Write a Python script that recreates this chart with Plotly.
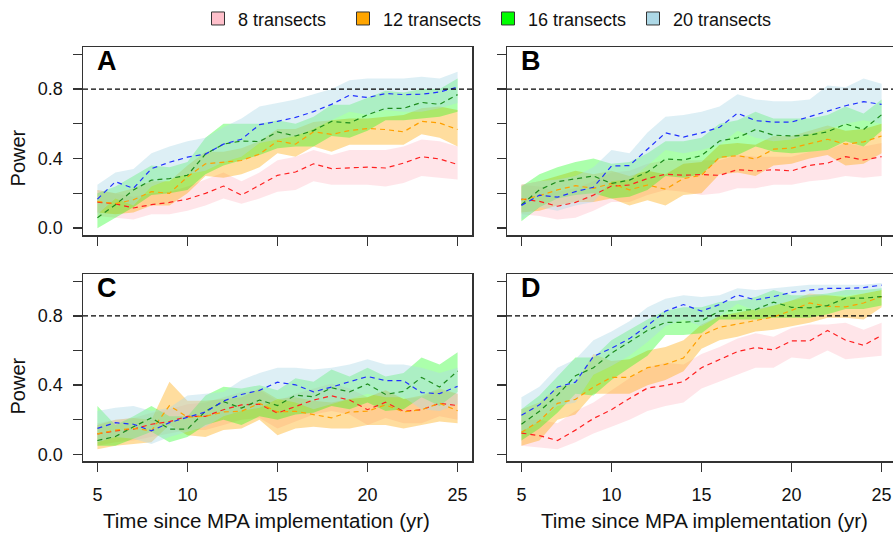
import plotly.graph_objects as go

years = list(range(5, 26))
series_names = ["8 transects", "12 transects", "16 transects", "20 transects"]
band_colors = ["rgba(255,192,203,0.42)", "rgba(255,165,0,0.38)", "rgba(0,255,0,0.33)", "rgba(173,216,230,0.42)"]
line_colors = ["#FF2020", "#FFA000", "#1E8C1E", "#2030FF"]
legend_colors = ["#FFC0CB", "#FFA500", "#00FF00", "#ADD8E6"]
panel_letters = ["A", "B", "C", "D"]
y_ticks = [0.0, 0.2, 0.4, 0.6, 0.8, 1.0]
y_ticktext = ["0.0", "", "0.4", "", "0.8", ""]
x_ticks = [5, 10, 15, 20, 25]
target_power = 0.8

# ---------------- Panel A ----------------
A8_mid = [0.15, 0.14, 0.116, 0.135, 0.148, 0.167, 0.2, 0.242, 0.19, 0.248, 0.304, 0.323, 0.37, 0.342, 0.347, 0.351, 0.346, 0.374, 0.411, 0.398, 0.366]
A8_lo = [0.07, 0.06, 0.05, 0.08, 0.08, 0.10, 0.13, 0.17, 0.14, 0.17, 0.21, 0.22, 0.27, 0.25, 0.25, 0.25, 0.24, 0.26, 0.30, 0.29, 0.28]
A8_hi = [0.22, 0.20, 0.18, 0.20, 0.21, 0.24, 0.28, 0.32, 0.27, 0.32, 0.39, 0.41, 0.45, 0.42, 0.45, 0.45, 0.45, 0.47, 0.51, 0.50, 0.47]
A12_mid = [0.154, 0.141, 0.163, 0.21, 0.2, 0.295, 0.37, 0.379, 0.389, 0.426, 0.501, 0.483, 0.554, 0.539, 0.561, 0.573, 0.567, 0.554, 0.614, 0.605, 0.567]
A12_lo = [0.09, 0.08, 0.09, 0.13, 0.13, 0.20, 0.30, 0.29, 0.31, 0.35, 0.43, 0.41, 0.47, 0.44, 0.48, 0.48, 0.48, 0.48, 0.54, 0.52, 0.47]
A12_hi = [0.22, 0.20, 0.23, 0.27, 0.27, 0.36, 0.44, 0.44, 0.46, 0.50, 0.57, 0.57, 0.61, 0.62, 0.63, 0.63, 0.64, 0.65, 0.69, 0.70, 0.68]
A16_mid = [0.06, 0.135, 0.22, 0.276, 0.285, 0.304, 0.426, 0.483, 0.501, 0.498, 0.554, 0.53, 0.561, 0.614, 0.605, 0.652, 0.689, 0.689, 0.723, 0.712, 0.768]
A16_lo = [0.00, 0.06, 0.12, 0.19, 0.20, 0.22, 0.31, 0.36, 0.39, 0.42, 0.46, 0.47, 0.47, 0.53, 0.52, 0.56, 0.62, 0.62, 0.63, 0.64, 0.67]
A16_hi = [0.20, 0.24, 0.30, 0.36, 0.35, 0.38, 0.52, 0.60, 0.60, 0.60, 0.62, 0.60, 0.64, 0.71, 0.71, 0.75, 0.79, 0.78, 0.80, 0.80, 0.86]
A20_mid = [0.167, 0.267, 0.229, 0.342, 0.379, 0.408, 0.426, 0.483, 0.511, 0.595, 0.614, 0.637, 0.67, 0.712, 0.764, 0.751, 0.774, 0.768, 0.77, 0.783, 0.811]
A20_lo = [0.08, 0.17, 0.13, 0.24, 0.28, 0.31, 0.33, 0.38, 0.41, 0.49, 0.51, 0.53, 0.57, 0.62, 0.67, 0.65, 0.68, 0.67, 0.67, 0.69, 0.72]
A20_hi = [0.25, 0.32, 0.34, 0.43, 0.47, 0.50, 0.52, 0.58, 0.63, 0.70, 0.72, 0.74, 0.77, 0.80, 0.85, 0.86, 0.86, 0.86, 0.87, 0.86, 0.90]

# ---------------- Panel B ----------------
B8_mid = [0.167, 0.154, 0.126, 0.148, 0.19, 0.242, 0.248, 0.285, 0.31, 0.304, 0.308, 0.304, 0.336, 0.329, 0.336, 0.329, 0.361, 0.374, 0.411, 0.392, 0.411]
B8_lo = [0.08, 0.07, 0.05, 0.06, 0.10, 0.15, 0.15, 0.19, 0.22, 0.21, 0.19, 0.20, 0.23, 0.23, 0.25, 0.25, 0.27, 0.28, 0.30, 0.29, 0.30]
B8_hi = [0.25, 0.24, 0.21, 0.23, 0.27, 0.32, 0.33, 0.37, 0.39, 0.39, 0.39, 0.39, 0.42, 0.41, 0.41, 0.41, 0.44, 0.45, 0.49, 0.47, 0.49]
B12_mid = [0.163, 0.186, 0.22, 0.244, 0.229, 0.257, 0.22, 0.248, 0.224, 0.285, 0.304, 0.408, 0.417, 0.398, 0.454, 0.46, 0.486, 0.511, 0.483, 0.496, 0.53]
B12_lo = [0.09, 0.10, 0.13, 0.15, 0.15, 0.17, 0.13, 0.16, 0.13, 0.19, 0.20, 0.31, 0.32, 0.30, 0.36, 0.37, 0.40, 0.42, 0.36, 0.37, 0.43]
B12_hi = [0.25, 0.27, 0.30, 0.33, 0.31, 0.33, 0.30, 0.33, 0.31, 0.37, 0.38, 0.48, 0.49, 0.48, 0.53, 0.53, 0.56, 0.59, 0.56, 0.57, 0.60]
B16_mid = [0.135, 0.22, 0.267, 0.285, 0.3, 0.257, 0.276, 0.323, 0.398, 0.392, 0.417, 0.501, 0.52, 0.567, 0.535, 0.53, 0.535, 0.554, 0.599, 0.567, 0.652]
B16_lo = [0.04, 0.12, 0.17, 0.19, 0.20, 0.17, 0.18, 0.22, 0.30, 0.29, 0.31, 0.40, 0.42, 0.47, 0.44, 0.43, 0.44, 0.45, 0.50, 0.47, 0.56]
B16_hi = [0.24, 0.31, 0.35, 0.38, 0.40, 0.37, 0.38, 0.43, 0.50, 0.50, 0.52, 0.60, 0.62, 0.67, 0.63, 0.63, 0.63, 0.65, 0.70, 0.66, 0.74]
B20_mid = [0.131, 0.19, 0.178, 0.21, 0.235, 0.357, 0.36, 0.454, 0.548, 0.524, 0.548, 0.58, 0.661, 0.618, 0.61, 0.61, 0.642, 0.674, 0.704, 0.727, 0.712]
B20_lo = [0.05, 0.12, 0.10, 0.13, 0.15, 0.27, 0.28, 0.36, 0.45, 0.43, 0.45, 0.48, 0.56, 0.52, 0.50, 0.51, 0.54, 0.57, 0.60, 0.62, 0.60]
B20_hi = [0.25, 0.27, 0.28, 0.30, 0.35, 0.45, 0.43, 0.55, 0.64, 0.65, 0.67, 0.70, 0.77, 0.74, 0.73, 0.73, 0.74, 0.82, 0.81, 0.86, 0.83]

# ---------------- Panel C ----------------
C8_mid = [0.118, 0.136, 0.146, 0.174, 0.189, 0.22, 0.22, 0.258, 0.286, 0.29, 0.239, 0.277, 0.314, 0.338, 0.314, 0.258, 0.301, 0.249, 0.258, 0.295, 0.282]
C8_lo = [0.05, 0.07, 0.08, 0.10, 0.12, 0.14, 0.14, 0.17, 0.20, 0.21, 0.15, 0.19, 0.23, 0.25, 0.23, 0.17, 0.21, 0.18, 0.18, 0.22, 0.20]
C8_hi = [0.18, 0.20, 0.21, 0.24, 0.26, 0.29, 0.30, 0.33, 0.36, 0.37, 0.31, 0.35, 0.38, 0.41, 0.38, 0.33, 0.37, 0.32, 0.33, 0.37, 0.35]
C12_mid = [0.118, 0.14, 0.15, 0.136, 0.282, 0.215, 0.22, 0.245, 0.249, 0.295, 0.245, 0.249, 0.23, 0.211, 0.245, 0.249, 0.286, 0.245, 0.258, 0.295, 0.252]
C12_lo = [0.03, 0.05, 0.06, 0.07, 0.17, 0.11, 0.10, 0.14, 0.15, 0.20, 0.11, 0.15, 0.16, 0.15, 0.15, 0.17, 0.17, 0.15, 0.17, 0.19, 0.18]
C12_hi = [0.17, 0.20, 0.21, 0.20, 0.42, 0.31, 0.31, 0.32, 0.33, 0.38, 0.32, 0.33, 0.31, 0.30, 0.32, 0.33, 0.37, 0.32, 0.34, 0.38, 0.35]
C16_mid = [0.08, 0.103, 0.159, 0.211, 0.146, 0.146, 0.249, 0.305, 0.267, 0.314, 0.282, 0.342, 0.333, 0.385, 0.361, 0.407, 0.346, 0.364, 0.445, 0.389, 0.482]
C16_lo = [0.05, 0.05, 0.09, 0.13, 0.07, 0.10, 0.17, 0.20, 0.17, 0.22, 0.20, 0.23, 0.24, 0.28, 0.26, 0.30, 0.25, 0.26, 0.33, 0.28, 0.36]
C16_hi = [0.28, 0.17, 0.22, 0.28, 0.22, 0.22, 0.34, 0.39, 0.38, 0.40, 0.37, 0.44, 0.42, 0.49, 0.45, 0.50, 0.45, 0.47, 0.56, 0.52, 0.59]
C20_mid = [0.15, 0.183, 0.174, 0.136, 0.183, 0.215, 0.245, 0.308, 0.346, 0.37, 0.417, 0.402, 0.361, 0.389, 0.421, 0.45, 0.426, 0.426, 0.357, 0.351, 0.393]
C20_lo = [0.07, 0.10, 0.09, 0.06, 0.10, 0.13, 0.16, 0.22, 0.25, 0.27, 0.32, 0.30, 0.26, 0.29, 0.32, 0.35, 0.33, 0.33, 0.26, 0.25, 0.29]
C20_hi = [0.25, 0.27, 0.28, 0.25, 0.27, 0.34, 0.35, 0.36, 0.43, 0.47, 0.50, 0.50, 0.49, 0.50, 0.52, 0.55, 0.52, 0.52, 0.50, 0.47, 0.50]

# ---------------- Panel D ----------------
D8_mid = [0.123, 0.108, 0.08, 0.14, 0.207, 0.258, 0.323, 0.383, 0.398, 0.42, 0.501, 0.548, 0.594, 0.617, 0.604, 0.656, 0.656, 0.716, 0.66, 0.63, 0.688]
D8_lo = [0.05, 0.04, 0.03, 0.07, 0.12, 0.16, 0.20, 0.25, 0.28, 0.30, 0.38, 0.42, 0.46, 0.50, 0.50, 0.56, 0.55, 0.60, 0.55, 0.56, 0.57]
D8_hi = [0.20, 0.20, 0.18, 0.25, 0.30, 0.37, 0.44, 0.50, 0.53, 0.52, 0.58, 0.62, 0.67, 0.70, 0.68, 0.73, 0.75, 0.75, 0.76, 0.72, 0.76]
D12_mid = [0.127, 0.193, 0.295, 0.318, 0.389, 0.445, 0.445, 0.501, 0.52, 0.557, 0.688, 0.735, 0.753, 0.772, 0.794, 0.832, 0.875, 0.856, 0.852, 0.875, 0.912]
D12_lo = [0.05, 0.08, 0.20, 0.23, 0.35, 0.35, 0.35, 0.40, 0.43, 0.48, 0.61, 0.66, 0.68, 0.71, 0.72, 0.74, 0.76, 0.79, 0.79, 0.78, 0.85]
D12_hi = [0.26, 0.30, 0.39, 0.41, 0.58, 0.54, 0.55, 0.60, 0.62, 0.66, 0.75, 0.80, 0.82, 0.84, 0.86, 0.89, 0.93, 0.92, 0.91, 0.93, 0.95]
D16_mid = [0.174, 0.249, 0.342, 0.454, 0.501, 0.585, 0.65, 0.716, 0.763, 0.763, 0.772, 0.828, 0.832, 0.837, 0.88, 0.85, 0.847, 0.86, 0.903, 0.903, 0.912]
D16_lo = [0.08, 0.15, 0.24, 0.35, 0.34, 0.43, 0.50, 0.57, 0.69, 0.69, 0.70, 0.78, 0.78, 0.78, 0.79, 0.79, 0.79, 0.81, 0.84, 0.84, 0.86]
D16_hi = [0.26, 0.34, 0.45, 0.56, 0.56, 0.66, 0.72, 0.78, 0.83, 0.85, 0.85, 0.88, 0.89, 0.91, 0.95, 0.92, 0.92, 0.93, 0.95, 0.95, 0.96]
D20_mid = [0.226, 0.286, 0.389, 0.417, 0.566, 0.613, 0.669, 0.744, 0.828, 0.866, 0.828, 0.866, 0.921, 0.893, 0.912, 0.936, 0.95, 0.959, 0.959, 0.964, 0.978]
D20_lo = [0.13, 0.19, 0.28, 0.30, 0.46, 0.51, 0.57, 0.65, 0.74, 0.78, 0.74, 0.80, 0.87, 0.83, 0.86, 0.89, 0.91, 0.92, 0.92, 0.93, 0.95]
D20_hi = [0.33, 0.39, 0.50, 0.55, 0.66, 0.71, 0.77, 0.85, 0.90, 0.92, 0.91, 0.92, 0.96, 0.95, 0.96, 0.97, 0.98, 0.98, 0.98, 0.98, 0.99]

panels = {
    "A": [(A8_lo, A8_mid, A8_hi), (A12_lo, A12_mid, A12_hi), (A16_lo, A16_mid, A16_hi), (A20_lo, A20_mid, A20_hi)],
    "B": [(B8_lo, B8_mid, B8_hi), (B12_lo, B12_mid, B12_hi), (B16_lo, B16_mid, B16_hi), (B20_lo, B20_mid, B20_hi)],
    "C": [(C8_lo, C8_mid, C8_hi), (C12_lo, C12_mid, C12_hi), (C16_lo, C16_mid, C16_hi), (C20_lo, C20_mid, C20_hi)],
    "D": [(D8_lo, D8_mid, D8_hi), (D12_lo, D12_mid, D12_hi), (D16_lo, D16_mid, D16_hi), (D20_lo, D20_mid, D20_hi)],
}

W, H = 893, 538
FONT = "Liberation Sans, Arial, sans-serif"
AX = "#333333"

# pixel geometry of the panels
left_x = (83 / W, 472 / W)
right_x = (507 / W, 1.0)
top_y = (1 - 233 / H, 1 - 42 / H)
bot_y = (1 - 463 / H, 1 - 273 / H)
px_per_year = 389 / 21.6
right_range = [4.2, 4.2 + 386 / px_per_year]

geom = {
    "A": (1, left_x, top_y, [4.2, 25.8], True, False),
    "B": (2, right_x, top_y, right_range, False, False),
    "C": (3, left_x, bot_y, [4.2, 25.8], True, True),
    "D": (4, right_x, bot_y, right_range, False, True),
}

fig = go.Figure()
layout = dict(
    width=W, height=H, margin=dict(l=0, r=0, t=0, b=0),
    paper_bgcolor="white", plot_bgcolor="white",
    font=dict(family=FONT, color="#111111", size=18),
    showlegend=True,
)

for letter, (idx, xd, yd, xr, is_left, is_bottom) in geom.items():
    sfx = "" if idx == 1 else str(idx)
    xref, yref = "x" + sfx, "y" + sfx
    layout["xaxis" + sfx] = dict(
        domain=list(xd), range=xr, anchor=yref, showgrid=False, zeroline=False,
        showline=True, linecolor=AX, linewidth=1.5, mirror=True,
        ticks="outside", ticklen=9, tickwidth=1.3, tickcolor=AX,
        tickvals=x_ticks, showticklabels=is_bottom, ticklabelstandoff=8,
        tickfont=dict(size=18, family=FONT, color="#111111"),
    )
    layout["yaxis" + sfx] = dict(
        domain=list(yd), range=[-0.04, 1.04], anchor=xref, showgrid=False, zeroline=False,
        showline=True, linecolor=AX, linewidth=1.5, mirror=is_left,
        ticks="outside", ticklen=9, tickwidth=1.3, tickcolor=AX,
        tickvals=y_ticks, ticktext=y_ticktext, showticklabels=is_left, ticklabelstandoff=6,
        tickfont=dict(size=18, family=FONT, color="#111111"),
    )
    data = panels[letter]
    # bands
    for s, (lo, mid, hi) in enumerate(data):
        fig.add_trace(go.Scatter(
            x=years + years[::-1], y=hi + lo[::-1], xaxis=xref, yaxis=yref,
            fill="toself", fillcolor=band_colors[s], line=dict(width=0),
            mode="lines", hoverinfo="skip", showlegend=False,
        ))
    # mean lines
    for s, (lo, mid, hi) in enumerate(data):
        fig.add_trace(go.Scatter(
            x=years, y=mid, xaxis=xref, yaxis=yref, mode="lines",
            line=dict(color=line_colors[s], width=1.2, dash="5px,4px"),
            showlegend=False,
        ))
    fig.add_shape(type="line", xref=xref + " domain", yref=yref, x0=0, x1=1,
                  y0=target_power, y1=target_power,
                  line=dict(color="black", width=1.2, dash="5px,3px"))
    fig.add_annotation(text="<b>" + letter + "</b>", xref=xref + " domain", yref=yref + " domain",
                       x=0.03, y=0.927, xanchor="left", yanchor="middle", showarrow=False,
                       font=dict(size=27, family=FONT, color="black"))

# legend entries
for s, name in enumerate(series_names):
    fig.add_trace(go.Scatter(
        x=[None], y=[None], mode="markers", name=name,
        marker=dict(symbol="square", size=13, color=legend_colors[s], line=dict(color="#333333", width=1)),
    ))

layout["legend"] = dict(
    orientation="h", x=198 / W, y=1 - 13 / H, xanchor="left", yanchor="middle",
    font=dict(size=18, family=FONT, color="#111111"),
    bgcolor="rgba(0,0,0,0)", borderwidth=0,
    entrywidth=100, entrywidthmode="pixels", itemclick=False,
)

# axis titles
for yc in (155, 387):
    fig.add_annotation(text="Power", xref="paper", yref="paper", x=18 / W, y=1 - yc / H,
                       textangle=-90, showarrow=False, xanchor="center", yanchor="middle",
                       font=dict(size=20, family=FONT, color="#111111"))
for xc in (266, 704):
    fig.add_annotation(text="Time since MPA implementation (yr)", xref="paper", yref="paper",
                       x=xc / W, y=1 - 523 / H, showarrow=False, xanchor="center", yanchor="middle",
                       font=dict(size=20.5, family=FONT, color="#111111"))

fig.update_layout(**layout)
fig.write_html("out.html", config={"displayModeBar": False, "staticPlot": True},
               post_script="document.body.style.margin='0';document.body.style.overflow='hidden';")
